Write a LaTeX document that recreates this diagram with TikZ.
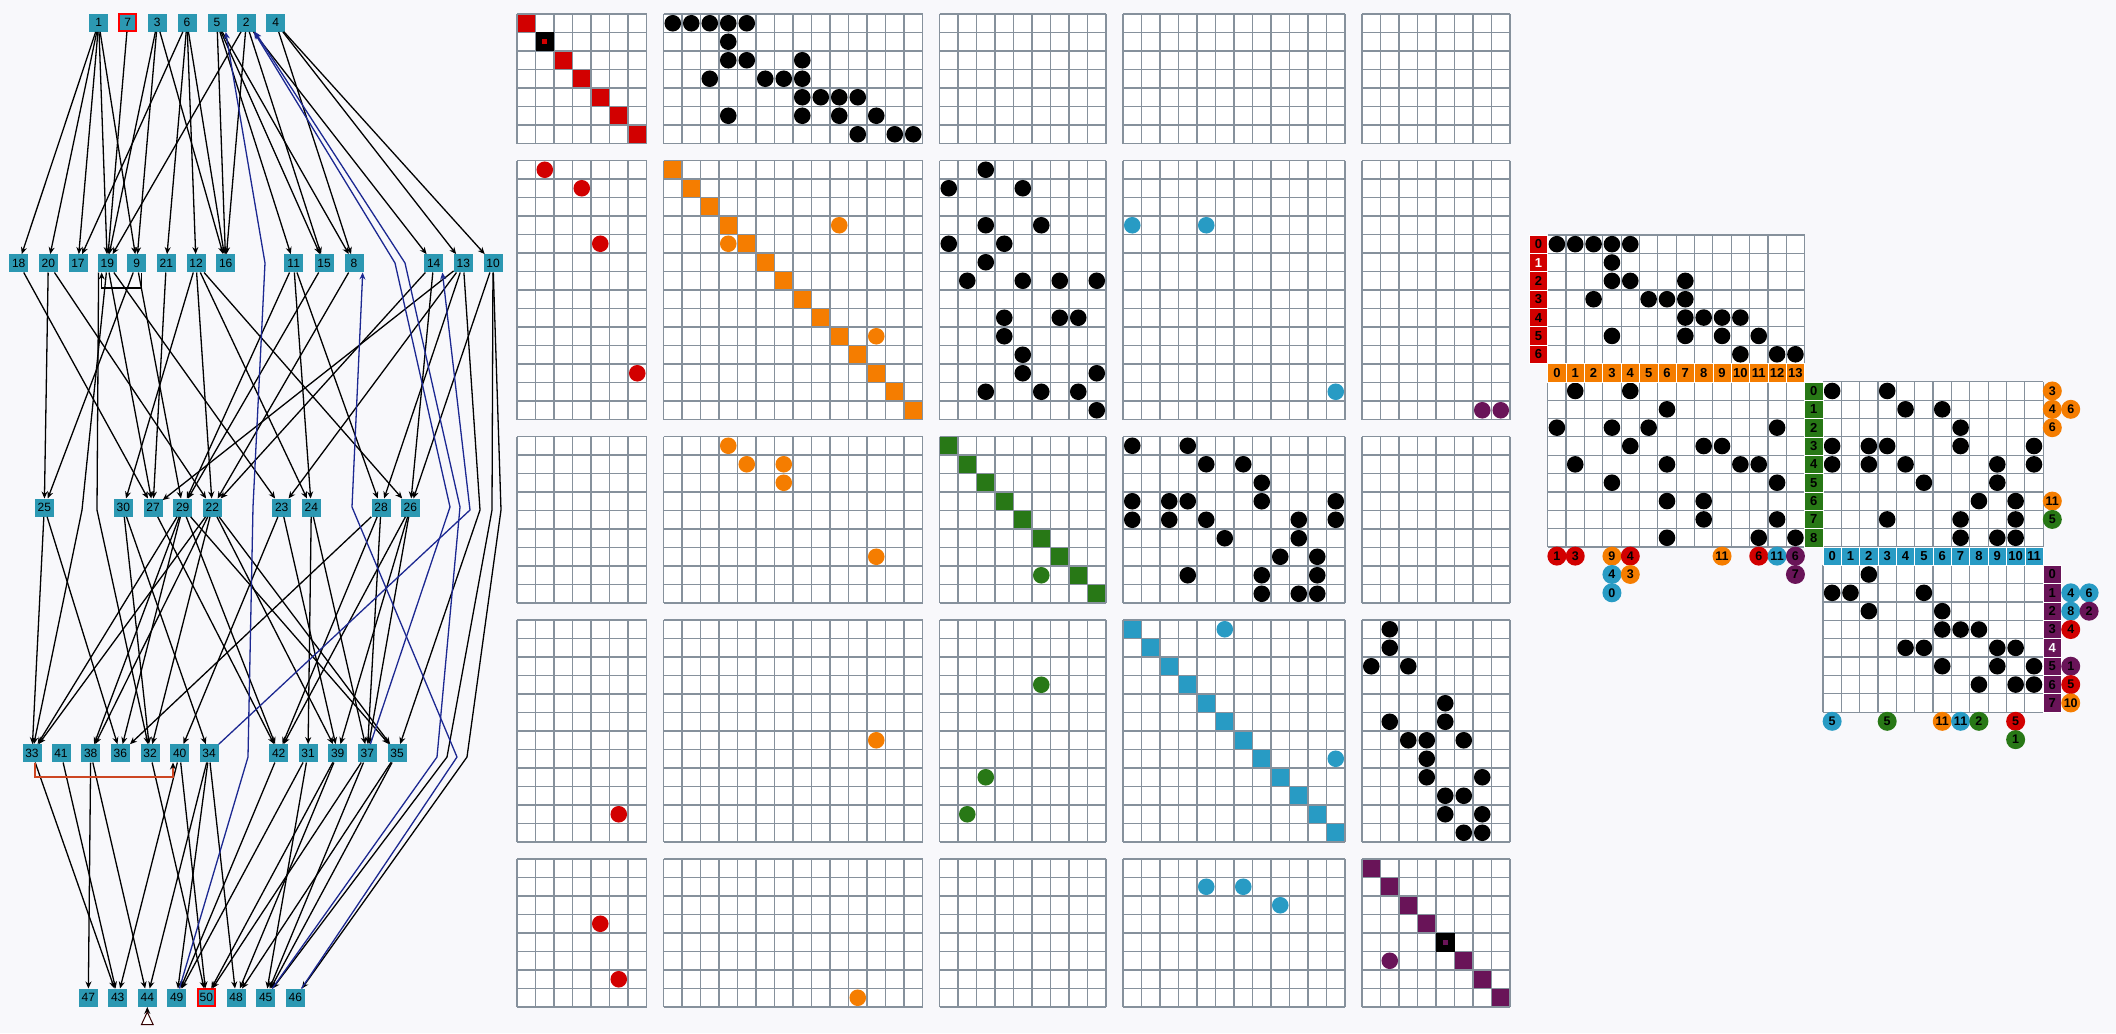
\documentclass[tikz,border=0pt]{standalone}
\usepackage{fontspec}
\setmainfont{Liberation Sans}
\usetikzlibrary{arrows.meta}
\definecolor{gR}{RGB}{210,0,0}
\definecolor{gO}{RGB}{245,125,0}
\definecolor{gG}{RGB}{40,120,22}
\definecolor{gB}{RGB}{40,155,196}
\definecolor{gP}{RGB}{105,20,88}
\definecolor{nodec}{RGB}{44,152,178}
\definecolor{gridc}{RGB}{134,145,156}
\definecolor{bgc}{RGB}{248,248,251}
\definecolor{backe}{RGB}{28,40,145}
\definecolor{brk}{RGB}{205,70,35}

\newcommand\MxLines[5]{%
  \foreach \k in {0,...,#4} \draw[gl] (#1+\k*#3,#2) -- ++(0,#5*#3);
  \foreach \k in {0,...,#5} \draw[gl] (#1,#2+\k*#3) -- ++(#4*#3,0);}
\newcommand\MxDiag[5]{%
  \foreach \k in {1,...,#4} \fill[#5] (#1+\k*#3-#3,#2+\k*#3-#3) rectangle ++(#3,#3);}
\newcommand\MxDots[5]{%
  \foreach \mr/\mc in {#5} \fill[#4] (#1+\mc*#3+0.5*#3,#2+\mr*#3+0.5*#3) circle[radius=8.3pt];}

\begin{document}
\begin{tikzpicture}[x=1pt,y=-1pt,
  gl/.style={draw=gridc,line width=1.2pt},
  gn/.style={rectangle,fill=nodec,minimum width=19pt,minimum height=18pt,inner sep=0pt,font=\fontsize{12}{12}\selectfont},
  selnode/.style={draw=red,line width=2pt,minimum width=17.5pt,minimum height=16.5pt},
  ed/.style={draw=black,line width=1.3pt,-{Stealth[length=7pt,width=6pt]}},
  be/.style={draw=backe,line width=1.3pt,-{Stealth[length=7pt,width=6pt]}},
  hdr/.style={rectangle,minimum width=18.35pt,minimum height=18.35pt,inner sep=0pt,draw=white,line width=0.6pt,text=black,font=\fontsize{13}{13}\selectfont\bfseries},
  badge/.style={circle,minimum size=19pt,inner sep=0pt,text=black,font=\fontsize{12.5}{12.5}\selectfont\bfseries}]

\useasboundingbox (0,0) rectangle (2116,1033);
\fill[bgc] (0,0) rectangle (2116,1033);

% ================= middle block matrix =================
\foreach \Y/\nr in {14/7,160.5/14,436.5/9,620/12,859/8}
  \foreach \X/\nc in {517/7,663.5/14,939.5/9,1123/12,1362/8}
    \fill[white] (\X,\Y) rectangle ++(\nc*18.5,\nr*18.5);
\MxDiag{517}{14}{18.5}{7}{gR}
\MxDiag{663.5}{160.5}{18.5}{14}{gO}
\MxDiag{939.5}{436.5}{18.5}{9}{gG}
\MxDiag{1123}{620}{18.5}{12}{gB}
\MxDiag{1362}{859}{18.5}{8}{gP}
\foreach \Y/\nr in {14/7,160.5/14,436.5/9,620/12,859/8}
  \foreach \X/\nc in {517/7,663.5/14,939.5/9,1123/12,1362/8}
    {\MxLines{\X}{\Y}{18.5}{\nc}{\nr}}
\fill[black] (535.5,32.5) rectangle ++(18.5,18.5);
\fill[gR] (542.25,39.25) rectangle ++(5,5);
\fill[black] (1436,933) rectangle ++(18.5,18.5);
\fill[gP] (1442.75,939.75) rectangle ++(5,5);

\MxDots{663.5}{14}{18.5}{black}{0/0,0/1,0/2,0/3,0/4,1/3,2/3,2/4,2/7,3/2,3/5,3/6,3/7,4/7,4/8,4/9,4/10,5/3,5/7,5/9,5/11,6/10,6/12,6/13}
\MxDots{517}{160.5}{18.5}{gR}{0/1,1/3,4/4,11/6}
\MxDots{663.5}{160.5}{18.5}{gO}{3/9,4/3,9/11}
\MxDots{939.5}{160.5}{18.5}{black}{1/0,4/0,6/1,0/2,3/2,5/2,12/2,4/3,8/3,9/3,1/4,6/4,10/4,11/4,3/5,12/5,6/6,8/6,8/7,12/7,6/8,11/8,13/8}
\MxDots{1123}{160.5}{18.5}{gB}{3/0,3/4,12/11}
\MxDots{1362}{160.5}{18.5}{gP}{13/6,13/7}
\MxDots{663.5}{436.5}{18.5}{gO}{0/3,1/4,1/6,2/6,6/11}
\MxDots{939.5}{436.5}{18.5}{gG}{7/5}
\MxDots{1123}{436.5}{18.5}{black}{0/0,0/3,1/4,1/6,2/7,3/0,3/2,3/3,3/7,3/11,4/0,4/2,4/4,4/9,4/11,5/5,5/9,6/8,6/10,7/3,7/7,7/10,8/7,8/9,8/10}
\MxDots{517}{620}{18.5}{gR}{10/5}
\MxDots{663.5}{620}{18.5}{gO}{6/11}
\MxDots{939.5}{620}{18.5}{gG}{3/5,8/2,10/1}
\MxDots{1123}{620}{18.5}{gB}{0/5,7/11}
\MxDots{1362}{620}{18.5}{black}{2/0,0/1,1/1,5/1,2/2,6/2,6/3,7/3,8/3,4/4,5/4,9/4,10/4,6/5,9/5,11/5,8/6,10/6,11/6}
\MxDots{517}{859}{18.5}{gR}{3/4,6/5}
\MxDots{663.5}{859}{18.5}{gO}{7/10}
\MxDots{1123}{859}{18.5}{gB}{1/4,1/6,2/8}
\MxDots{1362}{859}{18.5}{gP}{5/1}

% ================= right-hand matrices =================
\fill[white] (1547.7,235) rectangle ++(256.9,128.45);
\fill[white] (1547.7,381.8) rectangle ++(256.9,165.15);
\fill[white] (1822.95,381.8) rectangle ++(220.2,165.15);
\fill[white] (1822.95,565.3) rectangle ++(220.2,146.8);
\MxLines{1547.7}{235}{18.35}{14}{7}
\MxLines{1547.7}{381.8}{18.35}{14}{9}
\MxLines{1822.95}{381.8}{18.35}{12}{9}
\MxLines{1822.95}{565.3}{18.35}{12}{8}
\MxDots{1547.7}{235}{18.35}{black}{0/0,0/1,0/2,0/3,0/4,1/3,2/3,2/4,2/7,3/2,3/5,3/6,3/7,4/7,4/8,4/9,4/10,5/3,5/7,5/9,5/11,6/10,6/12,6/13}
\MxDots{1547.7}{381.8}{18.35}{black}{0/1,0/4,1/6,2/0,2/3,2/5,2/12,3/4,3/8,3/9,4/1,4/6,4/10,4/11,5/3,5/12,6/6,6/8,7/8,7/12,8/6,8/11,8/13}
\MxDots{1822.95}{381.8}{18.35}{black}{0/0,0/3,1/4,1/6,2/7,3/0,3/2,3/3,3/7,3/11,4/0,4/2,4/4,4/9,4/11,5/5,5/9,6/8,6/10,7/3,7/7,7/10,8/7,8/9,8/10}
\MxDots{1822.95}{565.3}{18.35}{black}{0/2,1/0,1/1,1/5,2/2,2/6,3/6,3/7,3/8,4/4,4/5,4/9,4/10,5/6,5/9,5/11,6/8,6/10,6/11}

% headers
\foreach \k/\tc in {0/black,1/white,2/black,3/black,4/black,5/black,6/black}
  \node[hdr,fill=gR,text=\tc] (hr\k) at (1538.525,244.175+\k*18.35) {\k};
\foreach \k in {0,...,13}
  \node[hdr,fill=gO] (ho\k) at (1556.875+\k*18.35,372.625) {\k};
\foreach \k in {0,...,8}
  \node[hdr,fill=gG] (hg\k) at (1813.775,390.975+\k*18.35) {\k};
\foreach \k in {0,...,11}
  \node[hdr,fill=gB] (hb\k) at (1832.125+\k*18.35,556.125) {\k};
\foreach \k/\tc in {0/black,1/black,2/black,3/black,4/white,5/black,6/black,7/black}
  \node[hdr,fill=gP,text=\tc] (hp\k) at (2052.325,574.475+\k*18.35) {\k};

% badges
\foreach \c/\r/\col/\t [count=\i] in {0/0/gR/1,1/0/gR/3,3/0/gO/9,3/1/gB/4,3/2/gB/0,4/0/gR/4,4/1/gO/3,9/0/gO/11,11/0/gR/6,12/0/gB/11,13/0/gP/6,13/1/gP/7}
  \node[badge,fill=\col] (bA\i) at (1556.875+\c*18.35,556.1+\r*18.35) {\t};
\foreach \r/\c/\col/\t [count=\i] in {0/0/gO/3,1/0/gO/4,1/1/gO/6,2/0/gO/6,6/0/gO/11,7/0/gG/5}
  \node[badge,fill=\col] (bB\i) at (2052.3+\c*18.4,390.975+\r*18.35) {\t};
\foreach \r/\c/\col/\t [count=\i] in {1/0/gB/4,1/1/gB/6,2/0/gB/8,2/1/gP/2,3/0/gR/4,5/0/gP/1,6/0/gR/5,7/0/gO/10}
  \node[badge,fill=\col] (bC\i) at (2070.7+\c*18.4,574.475+\r*18.35) {\t};
\foreach \c/\r/\col/\t [count=\i] in {0/0/gB/5,3/0/gG/5,6/0/gO/11,7/0/gB/11,8/0/gG/2,10/0/gR/5,10/1/gG/1}
  \node[badge,fill=\col] (bD\i) at (1832.125+\c*18.35,721.3+\r*18.35) {\t};

% ================= graph =================
\foreach \n/\x in {1/98.7,3/157.3,6/187,5/217,2/246.3,4/275.7}
  \node[gn] (n\n) at (\x,22.7) {\n};
\node[gn,selnode] (n7) at (127.7,22.7) {7};
\foreach \n/\x in {18/18.7,20/48.3,17/78,19/107.3,9/136.7,21/166.3,12/196,16/225.7,11/293.7,15/324,8/354,14/433.7,13/463.3,10/493}
  \node[gn] (n\n) at (\x,263.3) {\n};
\foreach \n/\x in {25/44.3,30/123.3,27/153,29/182.7,22/212.3,23/281.7,24/311.3,28/381,26/410.3}
  \node[gn] (n\n) at (\x,507.7) {\n};
\foreach \n/\x in {33/32,41/61,38/90.7,36/120.3,32/150,40/179.7,34/209,42/278.7,31/308,39/337.7,37/367.3,35/397}
  \node[gn] (n\n) at (\x,753.3) {\n};
\foreach \n/\x in {47/88.3,43/117.7,44/147.3,49/176.7,48/236,45/265.7,46/295.3}
  \node[gn] (n\n) at (\x,997.7) {\n};
\node[gn,selnode] (n50) at (206.3,997.7) {50};

\foreach \a/\b in {1/18,1/20,1/17,1/19,1/9,7/19,3/19,3/9,3/16,6/17,6/21,6/12,6/16,5/16,5/11,5/15,5/8,2/19,2/16,2/15,2/14,4/8,4/13,4/10,
  20/25,9/25,12/30,18/27,19/27,21/27,13/27,9/29,11/29,15/29,20/22,12/22,8/22,14/22,19/23,13/23,12/24,11/24,11/28,13/28,12/26,14/26,10/26,
  25/33,25/36,30/32,30/34,27/42,29/33,29/38,29/36,29/42,29/35,22/33,22/38,22/32,22/39,22/35,23/40,23/39,24/31,24/37,28/36,28/42,28/37,26/42,26/39,26/37,
  38/47,33/43,41/43,40/43,38/44,34/44,34/49,42/49,31/49,32/50,40/50,39/50,37/50,34/48,39/48,35/48,31/45,37/45,35/45}
  \draw[ed] (n\a) -- (n\b);

% long forward edges
\draw[ed] ([xshift=1pt]n19.south west) -- (97,510) -- (n32);
\draw[ed] (n19) -- (82,510) -- (n33);
\draw[ed] (n13) -- (480,510) -- (n35);
\draw[ed] (n10) -- (492,510) -- (447,757) -- (n45);
\draw[ed] (n10) -- (501,510) -- (467,757) -- (n46);

% back edges
\draw[be] (n49) -- (248,757) -- (253,507) -- (265,263) -- ([xshift=-1pt]n5.south east);
\draw[be] (n45) -- (437,757) -- (460,507) -- (405,263) -- ([xshift=-1pt]n2.south east);
\draw[be] (n37) -- (450,507) -- (395,263) -- ([xshift=-2pt]n2.south east);
\draw[be] (n46) -- (457,757) -- (352,507) -- ([xshift=-1pt]n8.south east);
\draw[be] (n34) -- (470,510) -- ([xshift=-1pt]n14.south east);

% same-layer edges
\draw[ed] ([xshift=5pt]n9.south) -- ++(0,15.5) -| ([xshift=-5.6pt]n19.south);
\draw[draw=brk,line width=1.3pt,-{Stealth[length=7pt,width=6pt,color=black]}] ([xshift=3pt]n33.south) -- ++(0,14.5) -| ([xshift=-6.7pt]n40.south);

% marker under 44
\coordinate (t44) at (147.3,1012);
\draw[ed] (t44) -- (n44.south);
\draw[draw=black!80!red,fill=white,line width=1pt] (141.5,1024.5) -- (153.1,1024.5) -- (t44) -- cycle;
\end{tikzpicture}
\end{document}
